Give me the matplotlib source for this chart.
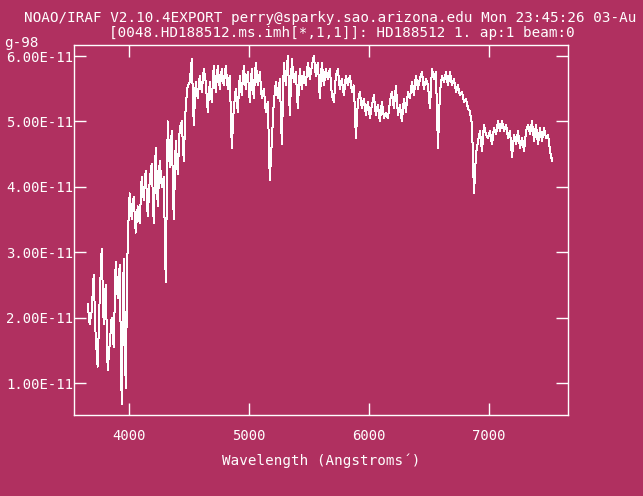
import matplotlib
matplotlib.use("Agg")
import matplotlib.pyplot as plt
from matplotlib.ticker import FuncFormatter, FixedLocator
import numpy as np

# Spectrum: linear dispersion (start wavelength, step in Angstroms)
wave_start = 3655.8
wave_step = 16.67
# flux in units of 1e-11
flux = [
    2.20, 1.90, 2.10, 2.65, 1.70, 1.25, 2.30, 3.05, 1.90, 2.50,
    1.20, 1.60, 2.00, 1.55, 2.85, 2.30, 2.80, 0.68, 2.90, 0.92,
    3.20, 3.90, 3.50, 3.85, 3.30, 3.70, 3.45, 4.15, 3.80, 4.25,
    3.55, 4.10, 4.35, 3.45, 4.60, 3.70, 4.40, 4.00, 4.15, 2.55,
    5.00, 4.30, 4.85, 3.50, 4.70, 4.20, 4.90, 5.00, 4.40, 5.25,
    5.55, 5.60, 5.95, 4.95, 5.60, 5.35, 5.70, 5.45, 5.80, 5.60,
    5.15, 5.60, 5.30, 5.85, 5.45, 5.85, 5.50, 5.80, 5.55, 5.85,
    5.50, 5.70, 4.60, 5.20, 5.50, 5.15, 5.70, 5.40, 5.85, 5.50,
    5.75, 5.30, 5.80, 5.35, 5.90, 5.55, 5.75, 5.35, 5.50, 5.15,
    5.30, 4.10, 4.70, 5.30, 5.60, 5.35, 5.65, 4.65, 5.90, 5.55,
    6.00, 5.10, 5.95, 5.60, 5.75, 5.20, 5.80, 5.50, 5.75, 5.55,
    5.90, 5.65, 5.85, 6.00, 5.70, 5.90, 5.35, 5.90, 5.55, 5.80,
    5.65, 5.80, 5.40, 5.30, 5.70, 5.80, 5.50, 5.65, 5.40, 5.70,
    5.55, 5.70, 5.45, 5.55, 4.75, 5.30, 5.45, 5.20, 5.35, 5.10,
    5.30, 5.05, 5.25, 5.40, 5.10, 5.25, 5.00, 5.30, 5.05, 5.13,
    5.05, 5.30, 5.45, 5.20, 5.55, 5.10, 5.25, 5.00, 5.35, 5.15,
    5.45, 5.35, 5.60, 5.40, 5.70, 5.50, 5.65, 5.75, 5.50, 5.65,
    5.55, 5.20, 5.80, 5.65, 5.75, 4.60, 5.45, 5.70, 5.60, 5.75,
    5.55, 5.75, 5.55, 5.65, 5.45, 5.55, 5.40, 5.45, 5.30, 5.35,
    5.20, 5.15, 4.95, 3.90, 4.50, 4.70, 4.85, 4.55, 4.95, 4.80,
    4.75, 4.85, 4.65, 4.90, 4.80, 5.00, 4.85, 5.00, 4.85, 4.95,
    4.75, 4.85, 4.45, 4.80, 4.65, 4.85, 4.60, 4.75, 4.55, 4.85,
    4.95, 4.80, 5.00, 4.70, 4.95, 4.65, 4.90, 4.70, 4.90, 4.75,
    4.80, 4.55, 4.40,
]
x_ticks = [4000, 5000, 6000, 7000]
y_ticks = [1e-11, 2e-11, 3e-11, 4e-11, 5e-11, 6e-11]
title1 = "NOAO/IRAF V2.10.4EXPORT perry@sparky.sao.arizona.edu Mon 23:45:26 03-Au"
title1_wrap = "g-98"
title2 = "[0048.HD188512.ms.imh[*,1,1]]: HD188512 1. ap:1 beam:0"
xlabel = "Wavelength (Angstroms\u00b4)"

bg = "#B03060"
fg = "white"
font = "DejaVu Sans Mono"
fs = 10.3

W, H = 643, 496
fig = plt.figure(figsize=(W / 100, H / 100), dpi=100, facecolor=bg)
ax = fig.add_axes([74 / W, 1 - 415 / H, (567.5 - 74) / W, (415 - 44.7) / H])
ax.set_facecolor(bg)

wave = wave_start + wave_step * np.arange(len(flux))
ax.plot(wave, np.array(flux) * 1e-11, color=fg, lw=0.72, antialiased=False)

ax.set_xlim(3542, 7652)
ax.set_ylim(0.511e-11, 6.173e-11)
ax.xaxis.set_major_locator(FixedLocator(x_ticks))
ax.yaxis.set_major_locator(FixedLocator(y_ticks))
ax.yaxis.set_major_formatter(FuncFormatter(lambda v, p: f"{v:.2E}"))
ax.xaxis.set_major_formatter(FuncFormatter(lambda v, p: f"{v:.0f}"))

for s in ax.spines.values():
    s.set_color(fg)
    s.set_linewidth(1.0)
ax.tick_params(axis="both", which="major", direction="in", length=8.6, width=1.0,
               color=fg, labelcolor=fg, top=True, right=True)
ax.tick_params(axis="y", pad=0.5)
ax.tick_params(axis="x", pad=10)
for lab in ax.get_xticklabels() + ax.get_yticklabels():
    lab.set_fontfamily(font)
    lab.set_fontsize(fs - 0.3)

ax.set_xlabel(xlabel, color=fg, fontfamily=font, fontsize=fs, labelpad=8)

fig.text(24 / W, 1 - 18 / H, title1, color=fg, fontfamily=font, fontsize=fs,
         ha="left", va="center")
fig.text(108.6 / W, 1 - 33 / H, title2, color=fg, fontfamily=font, fontsize=fs,
         ha="left", va="center")
fig.text(4 / W, 1 - 43 / H, title1_wrap, color=fg, fontfamily=font, fontsize=fs,
         ha="left", va="center")

fig.savefig("out.png", dpi=100, facecolor=bg)
